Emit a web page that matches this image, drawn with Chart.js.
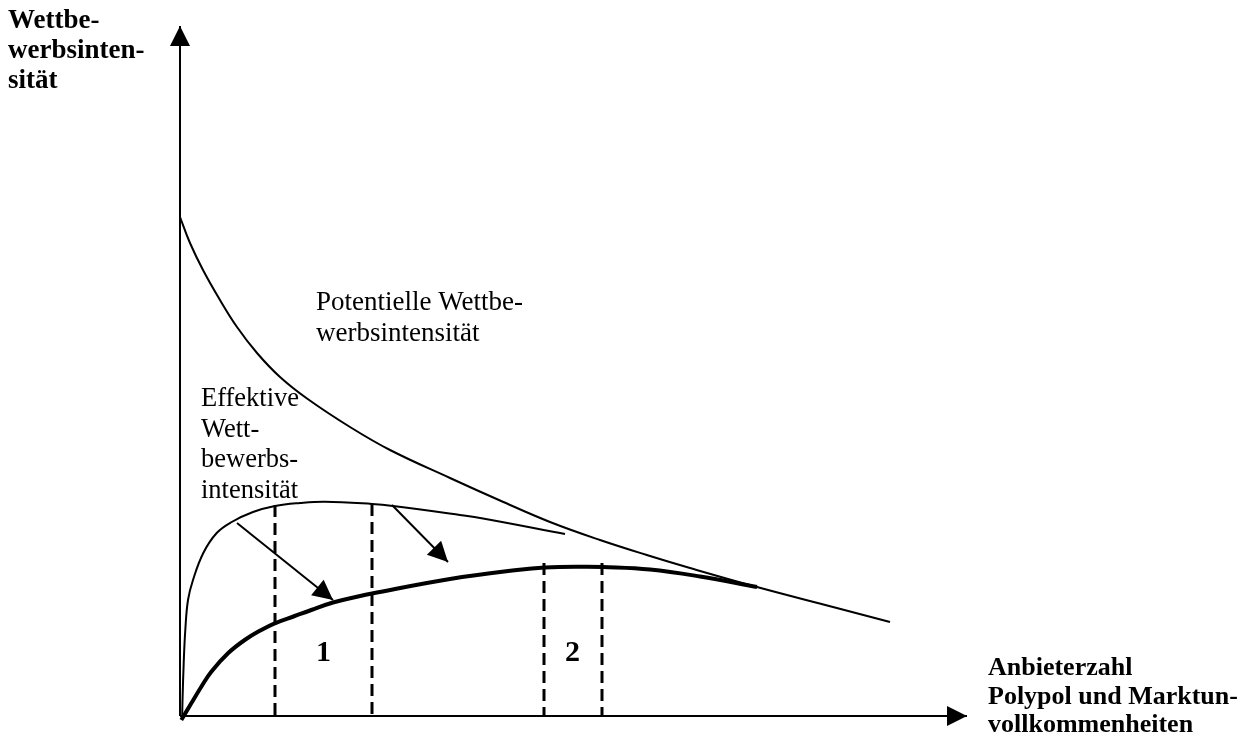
<!DOCTYPE html>
<html lang="de">
<head>
<meta charset="UTF-8">
<title>Wettbewerbsintensität</title>
<script src="https://cdn.jsdelivr.net/npm/chart.js"></script>
<style>
  body { margin: 0; background: #fff; }
  canvas { display: block; }
</style>
</head>
<body>
<canvas id="grafik" width="1249" height="742"></canvas>
<script>
  const potX = [0, 10, 23, 40, 57, 77, 100, 127, 170, 210, 270, 320, 370, 420, 470, 510, 577, 653, 710];
  const potY = [499, 473, 446, 416, 389, 363, 339, 317.5, 289, 266, 238, 215.5, 194, 176, 160, 148, 129, 109, 94];

  const effX = [2.2, 2.5, 3.7, 5.3, 8, 13, 23.3, 36.7, 51.7, 73, 95, 120, 145, 192, 213, 280, 303, 385];
  const effY = [0, 15, 53, 86, 116, 136, 163, 183, 194, 204, 210, 213, 214.3, 212, 210, 201, 197.5, 182];

  const fettX = [1.3, 11.3, 21.3, 31.3, 48, 64.7, 81.3, 94.7, 114.7, 131.3, 153, 178, 192, 270, 337, 365, 403, 423, 470, 520, 577];
  const fettY = [-4, 12.7, 29.3, 44.3, 62.7, 76, 86, 92.7, 100, 106, 113.5, 119.5, 122.5, 137, 146, 148.5, 149.3, 149, 146.5, 139.5, 129];

  const strichX = [95, 192, 364, 422];
  const strichOben = [211, 212, 153, 153];

  const pfeile = [
    { von: [57, 193], nach: [153, 116] },
    { von: [212, 211], nach: [268, 154] }
  ];
  const achseX = [0, 787];
  const achseY = [0, 690];

  function punkte(xs, ys) {
    return xs.map((x, i) => ({ x: x, y: ys[i] }));
  }

  const datasets = [];

  // Achsen
  datasets.push({ data: [{ x: achseX[0], y: 0 }, { x: achseX[1], y: 0 }], borderWidth: 2, pfeilspitze: true, clip: false });
  datasets.push({ data: [{ x: 0, y: achseY[0] }, { x: 0, y: achseY[1] }], borderWidth: 2, pfeilspitze: true, clip: false });

  // Kurven
  datasets.push({ data: punkte(potX, potY), borderWidth: 2, tension: 0.4 });
  datasets.push({ data: punkte(effX, effY), borderWidth: 2, tension: 0.4 });
  datasets.push({ data: punkte(fettX, fettY), borderWidth: 4, tension: 0.4, clip: false });

  // gestrichelte Linien
  strichX.forEach((x, i) => {
    datasets.push({ data: [{ x: x, y: strichOben[i] }, { x: x, y: 0 }], borderWidth: 3, borderDash: [12, 6] });
  });

  // Pfeile
  pfeile.forEach(p => {
    datasets.push({ data: [{ x: p.von[0], y: p.von[1] }, { x: p.nach[0], y: p.nach[1] }], borderWidth: 2, pfeilspitze: true });
  });

  datasets.forEach(ds => {
    ds.showLine = true;
    ds.borderColor = "#000";
    ds.pointRadius = 0;
    ds.fill = false;
  });

  const pfeilPlugin = {
    id: "pfeilPlugin",
    afterDatasetsDraw(chart) {
      const ctx = chart.ctx;
      chart.data.datasets.forEach((ds, i) => {
        if (!ds.pfeilspitze) return;
        const pts = chart.getDatasetMeta(i).data;
        const a = pts[pts.length - 2];
        const b = pts[pts.length - 1];
        const w = Math.atan2(b.y - a.y, b.x - a.x);
        const len = 20, halb = 10;
        ctx.save();
        ctx.fillStyle = "#000";
        ctx.beginPath();
        ctx.moveTo(b.x, b.y);
        ctx.lineTo(b.x - len * Math.cos(w) + halb * Math.sin(w), b.y - len * Math.sin(w) - halb * Math.cos(w));
        ctx.lineTo(b.x - len * Math.cos(w) - halb * Math.sin(w), b.y - len * Math.sin(w) + halb * Math.cos(w));
        ctx.closePath();
        ctx.fill();
        ctx.restore();
      });
    }
  };

  const texte = [
    { t: ["Wettbe-", "werbsinten-", "sität"], x: 8, y: 28, zeile: 30, font: "bold 27px 'Liberation Serif'" },
    { t: ["Anbieterzahl", "Polypol und Marktun-", "vollkommenheiten"], x: 988, y: 675, zeile: 28.5, font: "bold 26px 'Liberation Serif'" },
    { t: ["Potentielle Wettbe-", "werbsintensität"], x: 316, y: 310, zeile: 31, font: "27px 'Liberation Serif'" },
    { t: ["Effektive", "Wett-", "bewerbs-", "intensität"], x: 201, y: 406, zeile: 30.5, font: "26.5px 'Liberation Serif'" },
    { t: ["1"], x: 316, y: 661, zeile: 0, font: "bold 30px 'Liberation Serif'" },
    { t: ["2"], x: 565, y: 661, zeile: 0, font: "bold 30px 'Liberation Serif'" }
  ];

  const textPlugin = {
    id: "textPlugin",
    afterDraw(chart) {
      const ctx = chart.ctx;
      ctx.save();
      ctx.fillStyle = "#000";
      ctx.textBaseline = "alphabetic";
      texte.forEach(b => {
        ctx.font = b.font;
        b.t.forEach((z, i) => ctx.fillText(z, b.x, b.y + i * b.zeile));
      });
      ctx.restore();
    }
  };

  new Chart(document.getElementById("grafik"), {
    type: "scatter",
    data: { datasets: datasets },
    options: {
      responsive: false,
      animation: false,
      layout: { padding: { left: 180, right: 269, top: 16, bottom: 26 } },
      scales: {
        x: { type: "linear", min: 0, max: 800, display: false },
        y: { type: "linear", min: 0, max: 700, display: false }
      },
      plugins: {
        legend: { display: false },
        tooltip: { enabled: false }
      }
    },
    plugins: [pfeilPlugin, textPlugin]
  });
</script>
</body>
</html>
